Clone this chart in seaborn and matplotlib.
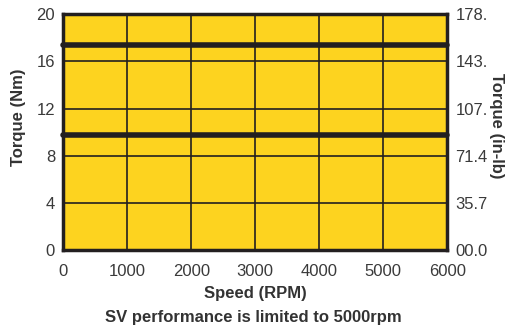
import numpy as np
import pandas as pd
import seaborn as sns
import matplotlib
matplotlib.use("Agg")
import matplotlib.pyplot as plt

# data
speed_rpm = [0, 6000]
peak_torque = [17.4, 17.4]
cont_torque = [9.75, 9.75]
x_ticks = [0, 1000, 2000, 3000, 4000, 5000, 6000]
y_ticks = [0, 4, 8, 12, 16, 20]
y2_labels = ["00.0", "35.7", "71.4", "107.", "143.", "178."]

sns.set_theme(style="white")
plt.rcParams["font.family"] = ["Liberation Sans", "DejaVu Sans"]

fig = plt.figure(figsize=(5.07, 3.29), dpi=100)
ax = fig.add_axes([0.125, 0.24, 0.757, 0.717])
ax.set_facecolor("#FDD31F")

df = pd.DataFrame({"speed": speed_rpm + speed_rpm,
                   "torque": peak_torque + cont_torque,
                   "curve": ["peak", "peak", "cont", "cont"]})
sns.lineplot(data=df, x="speed", y="torque", units="curve", estimator=None,
             color="#231F20", linewidth=4, ax=ax, legend=False, clip_on=False)

ax.set_xlim(0, 6000)
ax.set_ylim(0, 20)
ax.set_xticks(x_ticks)
ax.set_yticks(y_ticks)
ax.grid(True, color="#231F20", linewidth=1.2)
ax.set_axisbelow(True)
for s in ax.spines.values():
    s.set_color("#231F20")
    s.set_linewidth(2.5)
ax.tick_params(axis="y", length=0, labelsize=12, labelcolor="#3a3a3a", pad=6)
ax.tick_params(axis="x", length=0, labelsize=12, labelcolor="#3a3a3a", pad=10)

ax.set_xlabel("Speed (RPM)", fontsize=12, fontweight="bold", color="#333333", labelpad=5)
ax.set_ylabel("Torque (Nm)", fontsize=12, fontweight="bold", color="#333333")
ax.yaxis.set_label_coords(-0.098, 0.565)

ax2 = ax.twinx()
ax2.set_ylim(0, 20)
ax2.set_yticks(y_ticks)
ax2.set_yticklabels(y2_labels)
ax2.tick_params(axis="y", length=0, labelsize=12, labelcolor="#3a3a3a", pad=6)
for s in ax2.spines.values():
    s.set_visible(False)

# right axis title placed by hand so it sits beside the tick labels
fig.text(0.979, 0.617, "Torque (in-lb)", rotation=270, ha="center", va="center",
         fontsize=12, fontweight="bold", color="#333333")

fig.text(0.5, 0.036, "SV performance is limited to 5000rpm", ha="center", va="center",
         fontsize=12, fontweight="bold", color="#333333")

fig.savefig("out.png", dpi=100)
